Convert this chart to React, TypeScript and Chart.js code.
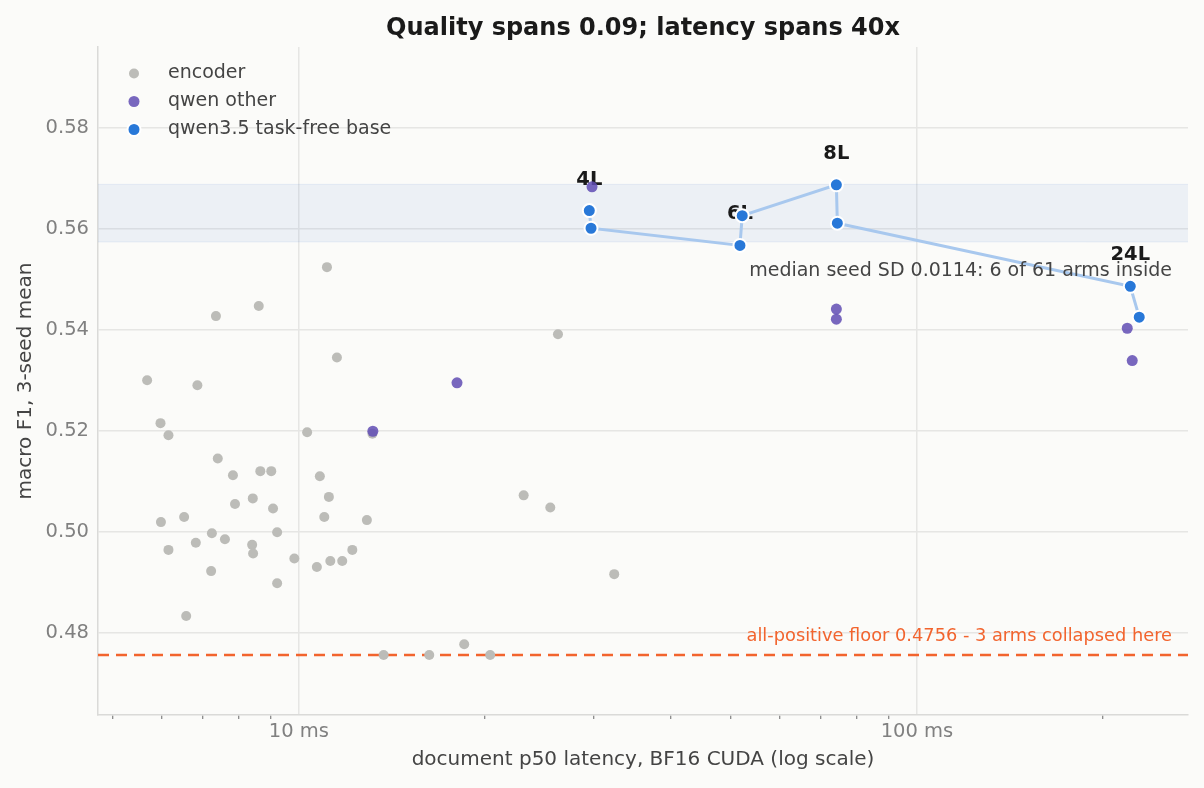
import React, { useEffect, useRef } from 'react';
import { Chart, registerables } from 'chart.js';

Chart.register(...registerables);

// ---------- data ----------
const encoderLatency = [
  11.52, 5.68, 6.85, 5.97, 6.15, 10.31, 13.15, 7.39, 7.82, 8.66, 9.02, 10.81,
  8.42, 7.88, 9.08, 11.18, 10.99, 12.88, 5.98, 6.52, 7.23, 9.22, 6.15, 6.81,
  7.59, 8.40, 8.43, 9.83, 10.69, 11.24, 11.75, 12.20, 7.21, 9.22, 6.57, 7.34,
  8.61, 11.10, 26.25, 23.10, 25.51, 32.37, 13.71, 16.25, 18.51, 20.39,
];
const encoderF1 = [
  0.5345, 0.5300, 0.5290, 0.5215, 0.5191, 0.5197, 0.5194, 0.5145, 0.5112, 0.5120, 0.5120, 0.5110,
  0.5066, 0.5055, 0.5046, 0.5069, 0.5029, 0.5023, 0.5019, 0.5029, 0.4997, 0.4999, 0.4964, 0.4978,
  0.4985, 0.4974, 0.4957, 0.4947, 0.4930, 0.4942, 0.4942, 0.4964, 0.4922, 0.4898, 0.4833, 0.5427,
  0.5447, 0.5524, 0.5391, 0.5072, 0.5048, 0.4916, 0.4756, 0.4756, 0.4777, 0.4756,
];
const qwenOtherLatency = [13.17, 18.02, 29.8, 74.06, 74.06, 218.9, 223.0];
const qwenOtherF1 = [0.5199, 0.5295, 0.5683, 0.5441, 0.5421, 0.5403, 0.5339];
const baseLatency = [29.5, 29.69, 51.71, 52.15, 74.06, 74.33, 221.4, 228.9];
const baseF1 = [0.5636, 0.5601, 0.5567, 0.5626, 0.5687, 0.5611, 0.5486, 0.5425];
const baseDepth = ['4L', '4L', '6L', '6L', '8L', '8L', '24L', '24L'];

const seriesNames = ['encoder', 'qwen other', 'qwen3.5 task-free base'];
const xTickValues = [5, 6, 7, 8, 9, 10, 20, 30, 40, 50, 60, 70, 80, 90, 100, 200];
const xMajorLabels: Record<number, string> = { 10: '10 ms', 100: '100 ms' };
const yTickValues = [0.48, 0.5, 0.52, 0.54, 0.56, 0.58];
const floorF1 = 0.4756;
const bandLow = 0.5574;
const bandHigh = 0.5688;

const titleText = 'Quality spans 0.09; latency spans 40x';
const xTitle = 'document p50 latency, BF16 CUDA (log scale)';
const yTitle = 'macro F1, 3-seed mean';
const bandNote = 'median seed SD 0.0114: 6 of 61 arms inside';
const floorNote = 'all-positive floor 0.4756 - 3 arms collapsed here';

// ---------- styles ----------
const FONT = "'DejaVu Sans', 'Noto Sans', sans-serif";
const BG = '#fbfbf9';
const GRAY = '#bcbcb8';
const PURPLE = 'rgba(96,76,180,0.85)';
const BLUE = '#2878d8';
const LINE = '#a8c8ee';
const ORANGE = '#f2642e';
const GRID = '#e6e6e4';

const overlay = {
  id: 'overlay',
  beforeDraw(chart: any) {
    const { ctx, width, height } = chart;
    ctx.save();
    ctx.fillStyle = BG;
    ctx.fillRect(0, 0, width, height);
    ctx.restore();
  },
  beforeDatasetsDraw(chart: any) {
    const { ctx, chartArea: a } = chart;
    const x = chart.scales.x;
    const y = chart.scales.y;
    ctx.save();
    // band
    const yt = y.getPixelForValue(bandHigh);
    const yb = y.getPixelForValue(bandLow);
    ctx.fillStyle = 'rgba(70,120,205,0.08)';
    ctx.fillRect(a.left, yt, a.right - a.left, yb - yt);
    ctx.strokeStyle = 'rgba(70,120,205,0.10)';
    ctx.lineWidth = 1;
    ctx.beginPath();
    ctx.moveTo(a.left, yt);
    ctx.lineTo(a.right, yt);
    ctx.moveTo(a.left, yb);
    ctx.lineTo(a.right, yb);
    ctx.stroke();
    // floor line
    const yf = y.getPixelForValue(floorF1);
    ctx.strokeStyle = ORANGE;
    ctx.lineWidth = 2.5;
    ctx.setLineDash([11, 7]);
    ctx.beginPath();
    ctx.moveTo(a.left, yf);
    ctx.lineTo(a.right, yf);
    ctx.stroke();
    ctx.setLineDash([]);
    // depth labels
    ctx.font = `bold 19.5px ${FONT}`;
    ctx.fillStyle = '#1a1a1a';
    ctx.textAlign = 'center';
    ctx.textBaseline = 'middle';
    baseDepth.forEach((d, i) => {
      if (i > 0 && baseDepth[i - 1] === d) return;
      ctx.fillText(d, x.getPixelForValue(baseLatency[i]), y.getPixelForValue(baseF1[i]) - 31);
    });
    ctx.restore();
  },
  afterDatasetsDraw(chart: any) {
    const { ctx, chartArea: a } = chart;
    const y = chart.scales.y;
    ctx.save();
    ctx.textAlign = 'right';
    ctx.textBaseline = 'middle';
    ctx.font = `19px ${FONT}`;
    ctx.fillStyle = '#444444';
    ctx.fillText(bandNote, a.right - 16, y.getPixelForValue(bandLow) + 29);
    ctx.font = `17.8px ${FONT}`;
    ctx.fillStyle = ORANGE;
    ctx.fillText(floorNote, a.right - 16, y.getPixelForValue(floorF1) - 19);
    ctx.restore();
  },
  afterDraw(chart: any) {
    const { ctx, chartArea: a } = chart;
    ctx.save();
    const cx = (a.left + a.right) / 2;
    // title
    ctx.font = `bold 24px ${FONT}`;
    ctx.fillStyle = '#1a1a1a';
    ctx.textAlign = 'center';
    ctx.textBaseline = 'alphabetic';
    ctx.fillText(titleText, cx, 35);
    // axis titles
    ctx.font = `20px ${FONT}`;
    ctx.fillStyle = '#444444';
    ctx.textBaseline = 'middle';
    ctx.fillText(xTitle, cx, 760);
    ctx.save();
    ctx.translate(26, (a.top + a.bottom) / 2);
    ctx.rotate(-Math.PI / 2);
    ctx.fillText(yTitle, 0, 0);
    ctx.restore();
    // legend
    const rows = [73.5, 101.5, 129.5];
    const colors = [GRAY, PURPLE, BLUE];
    const radii = [5, 5.5, 6.5];
    rows.forEach((ry, i) => {
      ctx.beginPath();
      ctx.arc(134, ry, radii[i], 0, Math.PI * 2);
      ctx.fillStyle = colors[i];
      ctx.fill();
      if (i === 2) {
        ctx.lineWidth = 2;
        ctx.strokeStyle = '#ffffff';
        ctx.stroke();
      }
      ctx.font = `19px ${FONT}`;
      ctx.fillStyle = '#444444';
      ctx.textAlign = 'left';
      ctx.textBaseline = 'middle';
      ctx.fillText(seriesNames[i], 168, ry);
    });
    ctx.restore();
  },
};

export default function App() {
  const ref = useRef<HTMLCanvasElement | null>(null);

  useEffect(() => {
    document.body.style.margin = '0';
    document.body.style.background = BG;
    Chart.defaults.font.family = FONT;
    const canvas = ref.current;
    if (!canvas) return;
    const chart = new Chart(canvas, {
      type: 'scatter',
      data: {
        datasets: [
          {
            label: seriesNames[0],
            data: encoderLatency.map((v, i) => ({ x: v, y: encoderF1[i] })),
            backgroundColor: GRAY,
            pointBackgroundColor: GRAY,
            pointBorderWidth: 0,
            pointRadius: 5,
            order: 3,
          },
          {
            label: seriesNames[1],
            data: qwenOtherLatency.map((v, i) => ({ x: v, y: qwenOtherF1[i] })),
            backgroundColor: PURPLE,
            pointBackgroundColor: PURPLE,
            pointBorderWidth: 0,
            pointRadius: 5.5,
            order: 2,
          },
          {
            label: seriesNames[2],
            data: baseLatency.map((v, i) => ({ x: v, y: baseF1[i] })),
            showLine: true,
            borderColor: LINE,
            borderWidth: 3,
            pointBackgroundColor: BLUE,
            pointBorderColor: '#ffffff',
            pointBorderWidth: 2,
            pointRadius: 6.5,
            order: 1,
          },
        ],
      },
      options: {
        responsive: false,
        animation: false,
        events: [],
        layout: { padding: { top: 47, right: 16, left: 0, bottom: 0 } },
        plugins: {
          legend: { display: false },
          title: { display: false },
          tooltip: { enabled: false },
        },
        scales: {
          x: {
            type: 'logarithmic',
            min: 4.73,
            max: 274.5,
            afterBuildTicks: (s: any) => {
              s.ticks = xTickValues.map((v) => ({ value: v }));
            },
            afterFit: (s: any) => {
              s.height = 73;
            },
            ticks: {
              autoSkip: false,
              maxRotation: 0,
              minRotation: 0,
              color: '#808080',
              font: { size: 19.5 },
              padding: 1,
              callback: (v: any) => xMajorLabels[Number(v)] ?? '',
            },
            grid: {
              color: (c: any) => (xMajorLabels[c.tick?.value] ? GRID : 'rgba(0,0,0,0)'),
              tickColor: (c: any) => (xMajorLabels[c.tick?.value] ? 'rgba(0,0,0,0)' : '#6a6a6a'),
              lineWidth: 1.5,
              tickLength: 4,
              tickWidth: 1,
            },
            border: { color: '#dadad8', width: 1.5 },
          },
          y: {
            type: 'linear',
            min: 0.4637,
            max: 0.596,
            afterBuildTicks: (s: any) => {
              s.ticks = yTickValues.map((v) => ({ value: v }));
            },
            afterFit: (s: any) => {
              s.width = 98;
            },
            ticks: {
              color: '#808080',
              font: { size: 19.5 },
              padding: 9,
              callback: (v: any) => Number(v).toFixed(2),
            },
            grid: { color: GRID, lineWidth: 1.5, drawTicks: false },
            border: { color: '#dadad8', width: 1.5 },
          },
        },
      } as any,
      plugins: [overlay],
    });
    return () => chart.destroy();
  }, []);

  return (
    <div style={{ position: 'fixed', left: 0, top: 0, width: 1204, height: 788, background: BG }}>
      <canvas ref={ref} width={1204} height={788} style={{ width: 1204, height: 788 }} />
    </div>
  );
}
